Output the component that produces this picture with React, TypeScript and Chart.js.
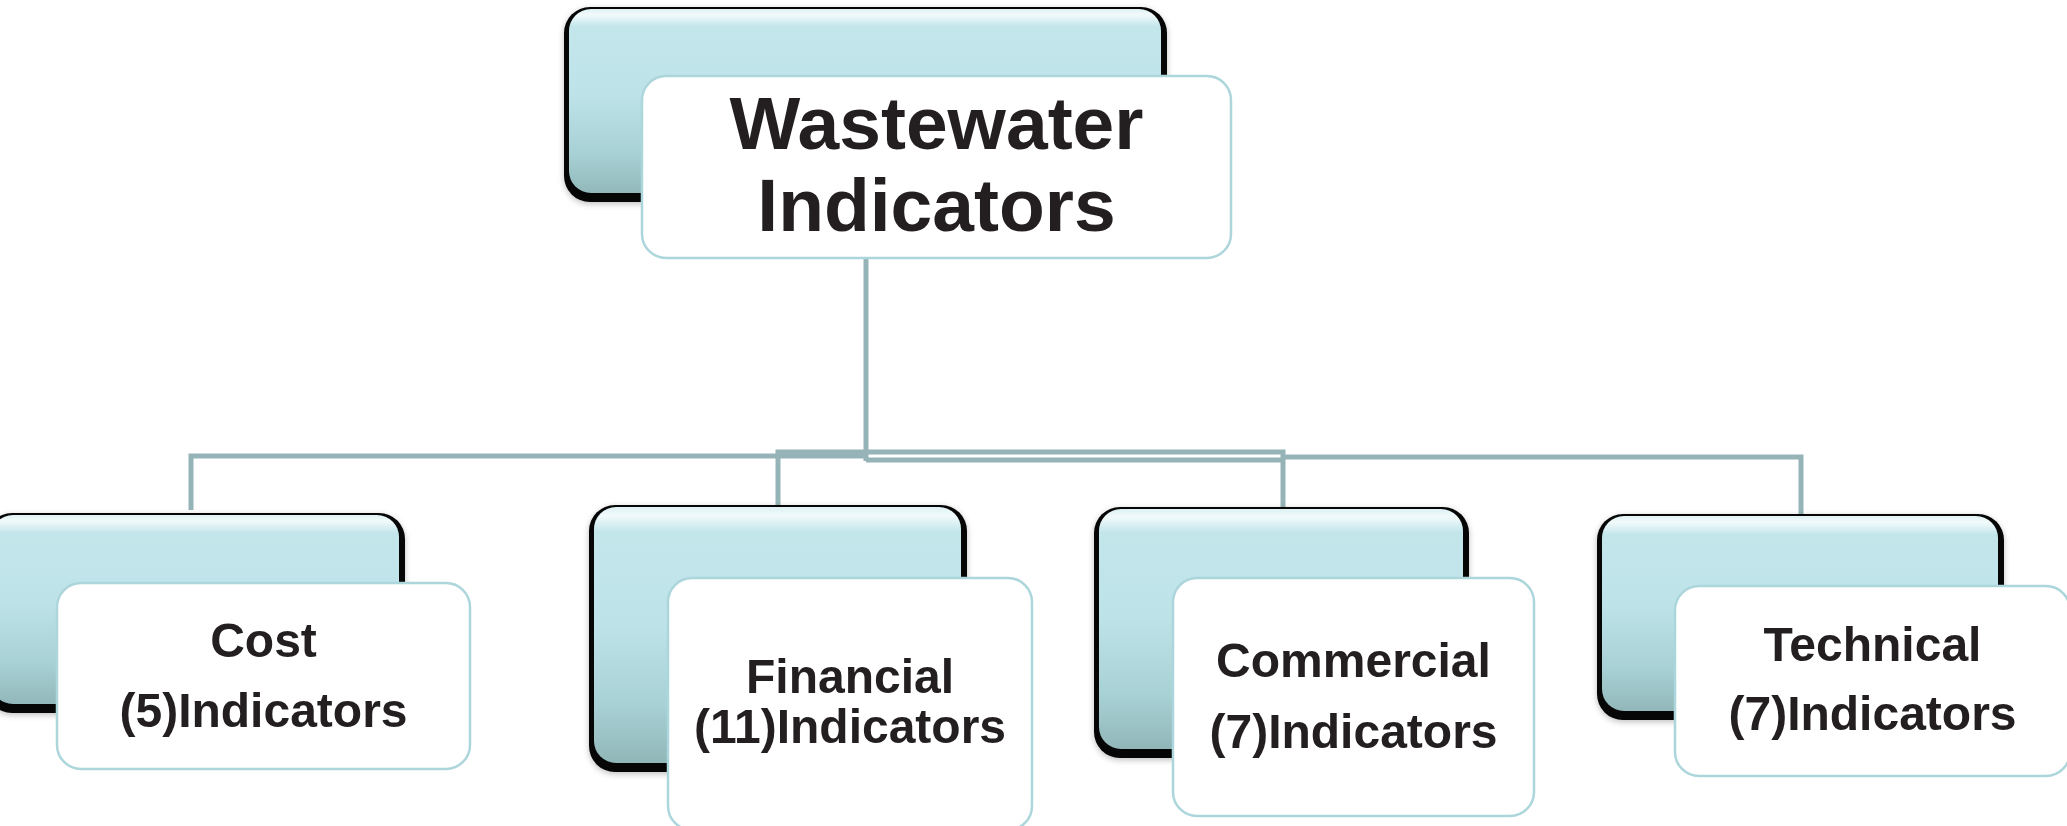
import React, { useEffect, useRef } from "react";
import { Chart, registerables } from "chart.js";

Chart.register(...registerables);

// ---- Diagram content (diagram units: x 0..2067, y 0..826 from top) ----
const nodeTitles = ["Wastewater", "Cost", "Financial", "Commercial", "Technical"];
const nodeSubtitles = ["Indicators", "(5)Indicators", "(11)Indicators", "(7)Indicators", "(7)Indicators"];

// back (teal) tiles: left, right, top, bottom
const backLeft = [564, -14, 589, 1094, 1597];
const backRight = [1167, 405, 967, 1469, 2004];
const backTop = [7, 513, 505, 507, 514];
const backBottom = [202, 713, 772, 758, 720];

// front (white) tiles
const frontLeft = [642, 57, 668, 1173, 1675];
const frontRight = [1231, 470, 1032, 1534, 2070];
const frontTop = [76, 583, 578, 578, 586];
const frontBottom = [258, 769, 830, 816, 776];

// text baselines
const titleBaseline = [149, 657, 693, 677, 661];
const subtitleBaseline = [231, 727, 743, 748, 730];

// connector polylines
const trunkLine = [{ x: 866, y: 258 }, { x: 866, y: 461 }];
const costLine = [{ x: 191, y: 510 }, { x: 191, y: 456 }, { x: 868, y: 456 }];
const bracketLine = [{ x: 778, y: 508 }, { x: 778, y: 452 }, { x: 1283, y: 452 }, { x: 1283, y: 508 }];
const innerLine = [{ x: 866, y: 460 }, { x: 1283, y: 460 }];
const technicalLine = [{ x: 1283, y: 457 }, { x: 1801, y: 457 }, { x: 1801, y: 515 }];

// ---- styles ----
const W = 2067;
const H = 826;
const lineColor = "#96b4b7";
const textColor = "#231f20";
const fontFamily = '"Liberation Sans", Arial, Helvetica, sans-serif';
const rootFont = 75;
const childFont = 48;

const diagramPlugin = {
  id: "diagramTiles",
  afterDatasetsDraw(chart: any) {
    const { ctx } = chart;
    const xs = chart.scales.x;
    const ys = chart.scales.y;
    for (let i = 0; i < nodeTitles.length; i++) {
      const bl = xs.getPixelForValue(backLeft[i]);
      const br = xs.getPixelForValue(backRight[i]);
      const bt = ys.getPixelForValue(backTop[i]);
      const bb = ys.getPixelForValue(backBottom[i]);
      const bw = br - bl;
      const bh = bb - bt;

      // dark bevel / shadow
      ctx.save();
      ctx.shadowColor = "rgba(0,0,0,0.25)";
      ctx.shadowBlur = 6;
      ctx.shadowOffsetY = 2;
      ctx.beginPath();
      ctx.roundRect(bl, bt, bw, bh, 26);
      ctx.fillStyle = "#060606";
      ctx.fill();
      ctx.restore();

      // teal gradient face
      ctx.save();
      const g = ctx.createLinearGradient(0, bt, 0, bb);
      g.addColorStop(0, "#d9eff2");
      g.addColorStop(0.04, "#f2fafb");
      g.addColorStop(0.1, "#c3e6eb");
      g.addColorStop(0.45, "#bde3e8");
      g.addColorStop(0.75, "#a8d1d5");
      g.addColorStop(1, "#8db2b4");
      ctx.beginPath();
      ctx.roundRect(bl + 5, bt + 2, bw - 11, bh - 11, 22);
      ctx.fillStyle = g;
      ctx.fill();
      ctx.restore();

      // front white card
      const fl = xs.getPixelForValue(frontLeft[i]);
      const fr = xs.getPixelForValue(frontRight[i]);
      const ft = ys.getPixelForValue(frontTop[i]);
      const fb = ys.getPixelForValue(frontBottom[i]);
      ctx.save();
      ctx.beginPath();
      ctx.roundRect(fl, ft, fr - fl, fb - ft, 24);
      ctx.fillStyle = "#ffffff";
      ctx.fill();
      ctx.lineWidth = 2.5;
      ctx.strokeStyle = "#acd6db";
      ctx.stroke();
      ctx.restore();

      // text
      const cx = (fl + fr) / 2;
      const size = i === 0 ? rootFont : childFont;
      ctx.save();
      ctx.fillStyle = textColor;
      ctx.font = `bold ${size}px ${fontFamily}`;
      ctx.textAlign = "center";
      ctx.textBaseline = "alphabetic";
      ctx.fillText(nodeTitles[i], cx, ys.getPixelForValue(titleBaseline[i]));
      ctx.fillText(nodeSubtitles[i], cx, ys.getPixelForValue(subtitleBaseline[i]));
      ctx.restore();
    }
  },
};

function lineDataset(points: { x: number; y: number }[]) {
  return {
    data: points,
    showLine: true,
    borderColor: lineColor,
    borderWidth: 5,
    borderJoinStyle: "miter" as const,
    borderCapStyle: "butt" as const,
    pointRadius: 0,
    pointHoverRadius: 0,
    fill: false,
    tension: 0,
  };
}

export default function App() {
  const ref = useRef<HTMLCanvasElement | null>(null);
  useEffect(() => {
    document.body.style.margin = "0";
    const canvas = ref.current;
    if (!canvas) return;
    const chart = new Chart(canvas, {
      type: "scatter",
      data: {
        datasets: [
          lineDataset(trunkLine),
          lineDataset(costLine),
          lineDataset(bracketLine),
          lineDataset(innerLine),
          lineDataset(technicalLine),
        ],
      },
      options: {
        responsive: false,
        animation: false,
        devicePixelRatio: 1,
        layout: { padding: 0 },
        scales: {
          x: { type: "linear", min: 0, max: W, display: false },
          y: { type: "linear", min: 0, max: H, reverse: true, display: false },
        },
        plugins: {
          legend: { display: false },
          tooltip: { enabled: false },
          title: { display: false },
        },
        events: [],
      },
      plugins: [diagramPlugin],
    });
    return () => chart.destroy();
  }, []);
  return (
    <div style={{ width: W, height: H, background: "#ffffff" }}>
      <canvas ref={ref} width={W} height={H} style={{ display: "block" }} />
    </div>
  );
}
